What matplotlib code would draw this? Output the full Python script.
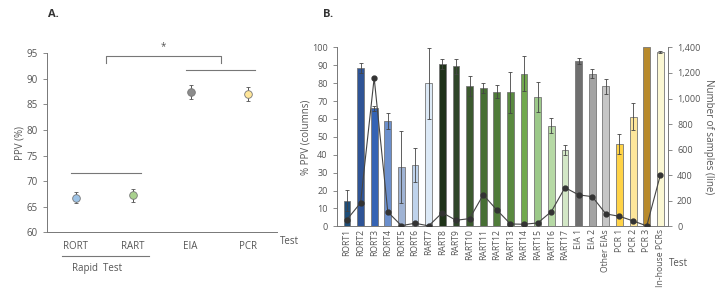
import numpy as np
import matplotlib.pyplot as plt
from matplotlib.ticker import FuncFormatter

plt.rcParams['font.family'] = ['Open Sans', 'DejaVu Sans']
txt = '#555555'

# panel A data
a_tests = ['RORT', 'RART', 'EIA', 'PCR']
a_ppv = [66.8, 67.2, 87.4, 87.0]
a_err = [1.1, 1.3, 1.4, 1.4]
a_colors = ['#9dc3e6', '#a9d18e', '#8c8c8c', '#ffe699']

# panel B data
b_tests = ['RORT1', 'RORT2', 'RORT3', 'RORT4', 'RORT5', 'RORT6', 'RART7',
           'RART8', 'RART9', 'RART10', 'RART11', 'RART12', 'RART13', 'RART14',
           'RART15', 'RART16', 'RART17', 'EIA 1', 'EIA 2', 'Other EIAs',
           'PCR 1', 'PCR 2', 'PCR 3', 'In-house PCRs']
b_ppv = [14.4, 88.4, 66.0, 58.8, 33.0, 34.5, 79.9, 90.7, 89.4, 78.4, 77.1,
         75.2, 74.8, 85.4, 72.2, 56.3, 42.9, 92.5, 85.3, 78.2, 46.1, 61.2,
         100.0, 97.2]
b_err = [6.0, 2.6, 1.3, 4.6, 20.0, 9.5, 20.0, 2.6, 4.3, 5.4, 2.8, 3.7, 11.2,
         9.9, 8.4, 4.3, 2.8, 1.7, 2.4, 4.3, 5.6, 7.5, 0.0, 0.6]
b_samples = [52, 183, 1162, 112, 5, 24, 3, 107, 47, 60, 246, 128, 18, 16,
             26, 115, 303, 246, 232, 97, 78, 42, 3, 402]
b_colors = ['#1f4e79', '#2f5496', '#3563b4', '#6b8fcc', '#9fb3d4', '#bfd3ec',
            '#dce9f6', '#1f3319', '#2f4629', '#3c5a2f', '#476f34', '#507c3a',
            '#5a8a40', '#71a84e', '#9cc98a', '#b6d9a5', '#d3e7c6', '#6f6f6f',
            '#a3a3a3', '#c6c6c6', '#ffd347', '#fde69b', '#b88a2c', '#fbf7d3']

fig = plt.figure(figsize=(7.25, 2.89), dpi=100)

# ---------- panel A ----------
ax = fig.add_axes([0.0648, 0.196, 0.317, 0.62])
xa = np.arange(1, len(a_tests) + 1)
for x, y, e, c in zip(xa, a_ppv, a_err, a_colors):
    ax.errorbar(x, y, yerr=e, fmt='o', ms=5.5, mfc=c, mec='#777777', mew=0.6,
                ecolor='#555555', elinewidth=0.7, capsize=1.5, capthick=0.7)
ax.set_xlim(0.5, 4.5)
ax.set_ylim(60, 95)
ax.set_yticks(range(60, 96, 5))
ax.set_xticks(xa)
ax.set_xticklabels(a_tests)
ax.tick_params(axis='x', length=0, pad=6, labelsize=7, colors=txt)
ax.tick_params(axis='y', length=3, width=0.6, labelsize=7, colors=txt, color='#777777')
for s in ['top', 'right']:
    ax.spines[s].set_visible(False)
for s in ['left', 'bottom']:
    ax.spines[s].set_color('#777777')
    ax.spines[s].set_linewidth(0.7)
ax.set_ylabel('PPV (%)', fontsize=7, color=txt, labelpad=1)
lc = '#777777'
ax.plot([0.91, 2.13], [71.5, 71.5], color=lc, lw=0.8)
ax.plot([2.92, 4.12], [91.7, 91.7], color=lc, lw=0.8, clip_on=False)
ax.plot([1.52, 1.52, 3.53, 3.53], [93.1, 94.4, 94.4, 93.1], color=lc, lw=0.8, clip_on=False)
ax.text(2.52, 95.2, '*', ha='center', va='bottom', fontsize=7, color=txt)
ax.plot([0.76, 2.28], [55.3, 55.3], color=lc, lw=0.8, clip_on=False)
ax.text(1.38, 52.9, 'Rapid  Test', ha='center', va='center', fontsize=7, color=txt)
ax.text(4.72, 58.2, 'Test', ha='center', va='center', fontsize=7, color=txt)
fig.text(0.066, 0.94, 'A.', fontsize=8, fontweight='bold', color='#333333')

# ---------- panel B ----------
bx = fig.add_axes([0.4644, 0.217, 0.457, 0.619])
xb = np.arange(len(b_tests))
bx.bar(xb, b_ppv, width=0.5, color=b_colors, edgecolor='#777777', linewidth=0.6, zorder=2)
for x, y, e in zip(xb, b_ppv, b_err):
    if e > 0:
        bx.errorbar(x, y, yerr=e, fmt='none', ecolor='#444444', elinewidth=0.6,
                    capsize=1.5, capthick=0.6, zorder=3)
bx.set_xlim(-0.75, len(b_tests) - 0.44)
bx.set_ylim(0, 100)
bx.set_yticks(range(0, 101, 10))
bx.set_xticks(xb)
bx.set_xticklabels(b_tests, rotation=90)
bx.tick_params(axis='x', length=0, pad=2, labelsize=6.2, colors=txt)
bx.tick_params(axis='y', length=3, width=0.6, labelsize=6.5, colors=txt, color='#777777')
for s in ['top', 'right']:
    bx.spines[s].set_visible(False)
for s in ['left', 'bottom']:
    bx.spines[s].set_color('#777777')
    bx.spines[s].set_linewidth(0.7)
bx.set_ylabel('% PPV (columns)', fontsize=7, color=txt, labelpad=0)

rx = bx.twinx()
rx.plot(xb, b_samples, color='#444444', lw=0.8, marker='o', ms=3.5,
        mfc='#333333', mec='#333333', zorder=4)
rx.set_ylim(0, 1400)
rx.set_yticks(range(0, 1401, 200))
rx.yaxis.set_major_formatter(FuncFormatter(lambda v, p: f'{int(v):,}'))
rx.tick_params(axis='y', length=3, width=0.6, labelsize=6.5, colors=txt, color='#777777')
for s in ['top', 'left', 'bottom']:
    rx.spines[s].set_visible(False)
rx.spines['right'].set_color('#777777')
rx.spines['right'].set_linewidth(0.7)
rx.set_ylabel('Number of samples (line)', rotation=270, fontsize=7, color=txt, labelpad=10)
bx.text(len(b_tests) + 0.3, -21, 'Test', ha='center', va='center', fontsize=7, color=txt)
fig.text(0.445, 0.94, 'B.', fontsize=8, fontweight='bold', color='#333333')

plt.savefig('out.png', dpi=100)
